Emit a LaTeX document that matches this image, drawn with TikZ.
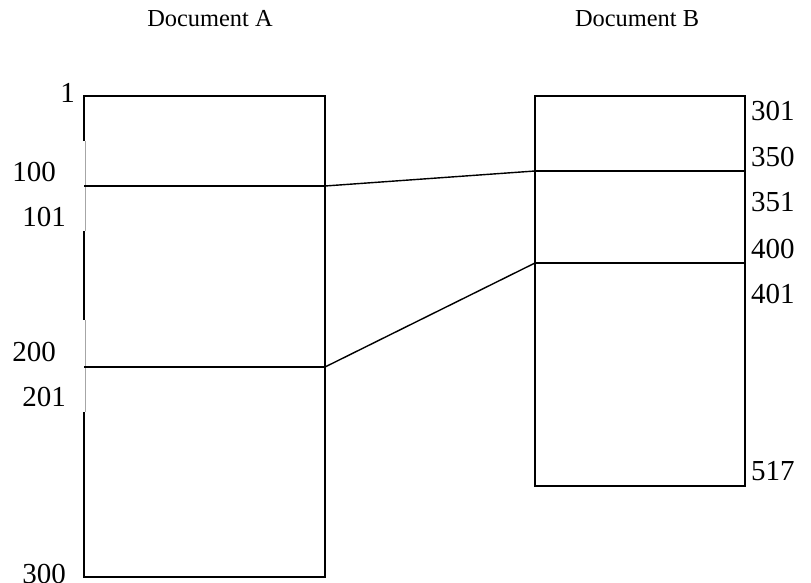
\documentclass[tikz,border=0pt]{standalone}
\usepackage{fontspec}
\setmainfont{Liberation Serif}
\begin{document}
\begin{tikzpicture}[x=1pt,y=-1pt,
  lbl/.style={inner sep=0pt,font=\fontsize{29}{32}\selectfont},
  ttl/.style={inner sep=0pt,font=\fontsize{24.4}{28}\selectfont},
  edge/.style={line width=1.4pt,black},
  faint/.style={line width=0.6pt,gray!70}]
\useasboundingbox (0,0) rectangle (811,583);
% Document A box
\coordinate (a1) at (84,96);
\coordinate (a2) at (325,96);
\coordinate (a3) at (325,577);
\coordinate (a4) at (84,577);
\coordinate (a100) at (84,186);
\coordinate (a100r) at (325,186);
\coordinate (a200) at (84,367);
\coordinate (a200r) at (325,367);
\draw[edge] (84,141) -- (a1) -- (a2) -- (a3) -- (a4) -- (84,412);
\draw[edge] (84,231) -- (84,320);
\draw[faint] (85,141) -- (85,231);
\draw[faint] (85,320) -- (85,412);
\draw[edge] (a100) -- (a100r);
\draw[edge] (a200) -- (a200r);
% Document B box
\coordinate (b1) at (535,96);
\coordinate (b2) at (745,96);
\coordinate (b3) at (745,486);
\coordinate (b4) at (535,486);
\coordinate (b350) at (535,171);
\coordinate (b350r) at (745,171);
\coordinate (b400) at (535,263);
\coordinate (b400r) at (745,263);
\draw[edge] (b1) -- (b2) -- (b3) -- (b4) -- cycle;
\draw[edge] (b350) -- (b350r);
\draw[edge] (b400) -- (b400r);
% connectors
\draw[edge] (a100r) -- (b350);
\draw[edge] (a200r) -- (b400);
% titles
\node[ttl,anchor=base] (ta) at (210,27) {Document A};
\node[ttl,anchor=base] (tb) at (637,27) {Document B};
% left labels
\node[lbl,anchor=base east] (l1) at (75,103) {1};
\node[lbl,anchor=base east] (l100) at (56,181) {100};
\node[lbl,anchor=base east] (l101) at (66,226) {101};
\node[lbl,anchor=base east] (l200) at (56,361) {200};
\node[lbl,anchor=base east] (l201) at (66,406) {201};
\node[lbl,anchor=base east] (l300) at (66,583) {300};
% right labels
\node[lbl,anchor=base west] (r301) at (751,121) {301};
\node[lbl,anchor=base west] (r350) at (751,166) {350};
\node[lbl,anchor=base west] (r351) at (751,211) {351};
\node[lbl,anchor=base west] (r400) at (751,258) {400};
\node[lbl,anchor=base west] (r401) at (751,303) {401};
\node[lbl,anchor=base west] (r517) at (751,480) {517};
\end{tikzpicture}
\end{document}
